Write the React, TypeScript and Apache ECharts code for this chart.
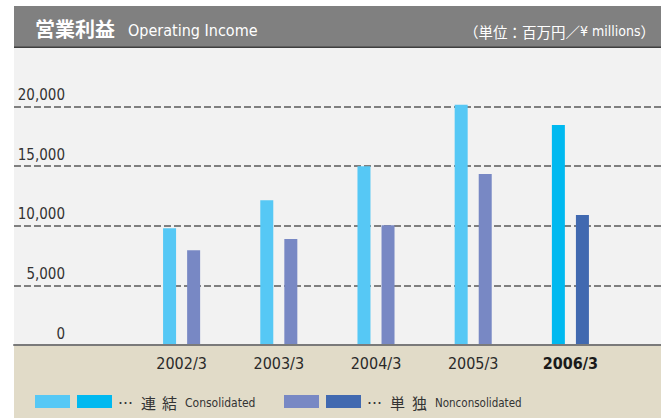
import React, { useEffect, useRef } from 'react';
import * as echarts from 'echarts';

const categories = ['2002/3', '2003/3', '2004/3', '2005/3', '2006/3'];
const consolidated = [9800, 12150, 15000, 20150, 18450];
const nonconsolidated = [7950, 8900, 10050, 14350, 10900];
const yMax = 25000;
const yStep = 5000;
const highlightIndex = 4;

const NARROW = "'Liberation Sans Narrow', 'DejaVu Sans Condensed', 'Liberation Sans', sans-serif";
const CJK = "'Noto Sans CJK JP', 'Noto Sans', sans-serif";

const COL_CONS = '#56c8f5';
const COL_CONS_HI = '#00b9f0';
const COL_NON = '#7888c4';
const COL_NON_HI = '#4169b0';

export default function App() {
  const ref = useRef<HTMLDivElement>(null);
  useEffect(() => {
    if (!ref.current) return;
    const chart = echarts.init(ref.current, undefined, { renderer: 'svg' });
    const legText = (x: number, t: string) => ({
      type: 'text', z: 5, x, y: 402,
      style: { text: t, fill: '#333333', font: `15px ${CJK}`, verticalAlign: 'middle' },
    });
    const option: any = {
      animation: false,
      backgroundColor: '#ffffff',
      grid: [
        { left: 14, right: 0, top: 47, bottom: 73, show: true, backgroundColor: '#f2f2f2', borderWidth: 0 },
        { left: 133, right: 42, top: 47, bottom: 73 },
      ],
      xAxis: [
        {
          type: 'value', gridIndex: 0, min: 0, max: 1, z: 5,
          axisLine: { show: true, onZero: false, lineStyle: { color: '#7a7a7a', width: 2 } },
          axisTick: { show: false }, axisLabel: { show: false }, splitLine: { show: false },
        },
        {
          type: 'category', gridIndex: 1, z: 5,
          data: categories.map((c, i) => i === highlightIndex ? { value: c, textStyle: { fontWeight: 'bold', color: '#1a1a1a' } } : c),
          axisLine: { show: false }, axisTick: { show: false },
          axisLabel: { margin: 10, fontSize: 16, color: '#2a2a2a', fontFamily: NARROW },
        },
      ],
      yAxis: [
        {
          type: 'value', gridIndex: 0, min: 0, max: yMax, interval: yStep,
          axisLine: { show: false }, axisTick: { show: false },
          splitLine: { lineStyle: { type: [7, 3], color: '#5a5a5a', width: 1.5 } },
          axisLabel: {
            margin: -51, align: 'right', verticalAlign: 'bottom', padding: [0, 0, 3, 0],
            fontSize: 15, lineHeight: 17, color: '#333333', fontFamily: NARROW,
            formatter: (v: number) => (v > 20000 ? '' : v.toLocaleString('en-US')),
          },
        },
        { type: 'value', gridIndex: 1, min: 0, max: yMax, interval: yStep, show: false },
      ],
      series: [
        {
          name: '連結', type: 'bar', xAxisIndex: 1, yAxisIndex: 1, barWidth: 13, barGap: '85%',
          data: consolidated.map((v, i) => ({ value: v, itemStyle: { color: i === highlightIndex ? COL_CONS_HI : COL_CONS } })),
        },
        {
          name: '単独', type: 'bar', xAxisIndex: 1, yAxisIndex: 1, barWidth: 13, barGap: '85%',
          data: nonconsolidated.map((v, i) => ({ value: v, itemStyle: { color: i === highlightIndex ? COL_NON_HI : COL_NON } })),
        },
      ],
      graphic: [
        { type: 'rect', z: -1, silent: true, shape: { x: 14, y: 346, width: 647, height: 72 }, style: { fill: '#e1dbc8' } },
        { type: 'rect', z: 10, silent: true, shape: { x: 14, y: 6, width: 647, height: 41 }, style: { fill: '#808080' } },
        { type: 'rect', z: 10, silent: true, shape: { x: 14, y: 46.5, width: 647, height: 1.5 }, style: { fill: '#3f3f3f' } },
        { type: 'text', z: 11, x: 35, y: 28, style: { text: '営業利益', fill: '#ffffff', font: `bold 20px ${CJK}`, verticalAlign: 'middle' } },
        { type: 'text', z: 11, x: 128, y: 30.5, style: { text: 'Operating Income', fill: '#ffffff', font: `16px ${NARROW}`, verticalAlign: 'middle' } },
        {
          type: 'text', z: 11, x: 655, y: 31,
          style: {
            text: '{a|（単位：百万円／}{b|¥ millions}{a|）}', align: 'right', verticalAlign: 'middle',
            rich: {
              a: { fill: '#ffffff', fontFamily: CJK, fontSize: 14.5 },
              b: { fill: '#ffffff', fontFamily: NARROW, fontSize: 14 },
            },
          },
        },
        // legend
        { type: 'rect', z: 5, shape: { x: 35, y: 395, width: 35, height: 13 }, style: { fill: COL_CONS } },
        { type: 'rect', z: 5, shape: { x: 77, y: 395, width: 35, height: 13 }, style: { fill: COL_CONS_HI } },
        legText(118, '…'),
        legText(141, '連'),
        legText(162, '結'),
        { type: 'text', z: 5, x: 185, y: 403, style: { text: 'Consolidated', fill: '#333333', font: `12px ${NARROW}`, verticalAlign: 'middle' } },
        { type: 'rect', z: 5, shape: { x: 284, y: 395, width: 35, height: 13 }, style: { fill: COL_NON } },
        { type: 'rect', z: 5, shape: { x: 326, y: 395, width: 35, height: 13 }, style: { fill: COL_NON_HI } },
        legText(367, '…'),
        legText(390, '単'),
        legText(412, '独'),
        { type: 'text', z: 5, x: 435, y: 403, style: { text: 'Nonconsolidated', fill: '#333333', font: `11.5px ${NARROW}`, verticalAlign: 'middle' } },
      ],
    };
    chart.setOption(option);
    return () => chart.dispose();
  }, []);
  return <div ref={ref} style={{ width: 661, height: 418, position: 'absolute', left: 0, top: 0 }} />;
}
